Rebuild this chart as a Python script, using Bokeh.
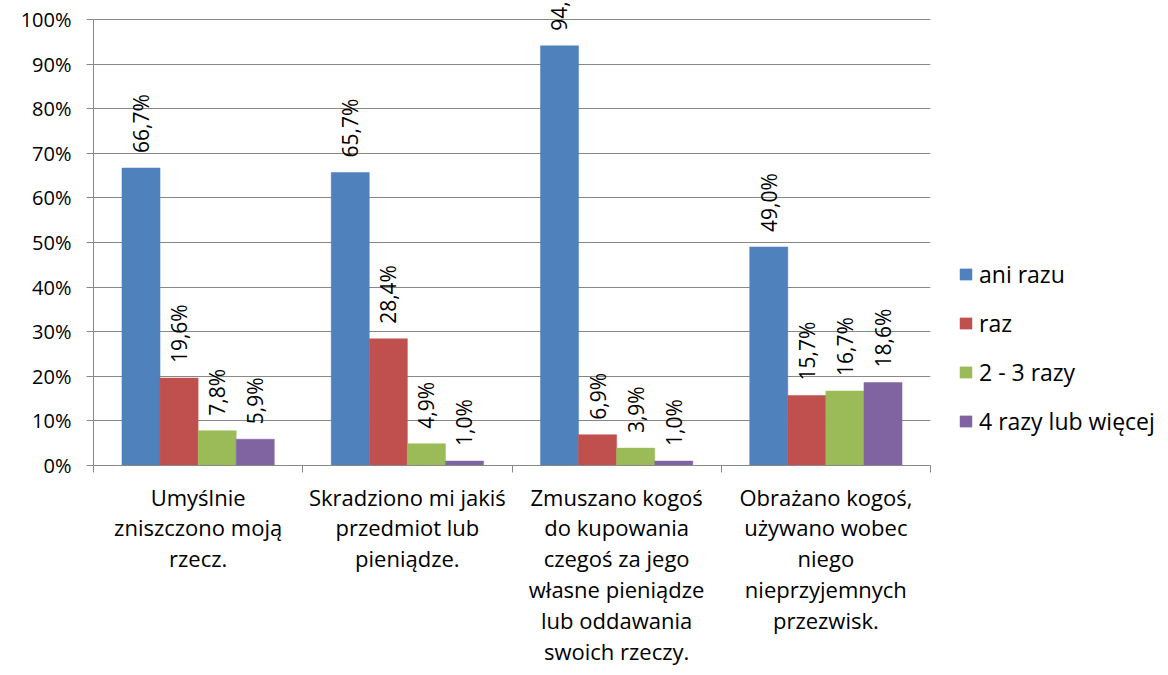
import numpy as np
from bokeh.plotting import figure
from bokeh.models import (ColumnDataSource, FixedTicker, LabelSet, Legend, LegendItem,
                          PrintfTickFormatter, Range1d)
from bokeh.core.properties import value
from bokeh.embed import file_html
from bokeh.resources import INLINE

categories = [
    "Umyślnie\nzniszczono moją\nrzecz.",
    "Skradziono mi jakiś\nprzedmiot lub\npieniądze.",
    "Zmuszano kogoś\ndo kupowania\nczegoś za jego\nwłasne pieniądze\nlub oddawania\nswoich rzeczy.",
    "Obrażano kogoś,\nużywano wobec\nniego\nnieprzyjemnych\nprzezwisk.",
]
series = ["ani razu", "raz", "2 - 3 razy", "4 razy lub więcej"]
ani_razu = [66.7, 65.7, 94.1, 49.0]
raz = [19.6, 28.4, 6.9, 15.7]
dwa_trzy = [7.8, 4.9, 3.9, 16.7]
cztery = [5.9, 1.0, 1.0, 18.6]
colors = ["#4F81BD", "#C0504D", "#9BBB59", "#8064A2"]

FONT = "Open Sans"

# frame: left 93, right 930, 100% at y=19, 0% at y=465
p = figure(frame_width=837, frame_height=465, output_backend="svg", toolbar_location=None,
           x_range=Range1d(0, 4), y_range=Range1d(0, 100 + 19 / 4.46),
           min_border_left=93, min_border_top=0, min_border_right=0,
           min_border_bottom=0)
p.outline_line_color = None
p.background_fill_color = "white"
p.border_fill_color = "white"

bw = 0.182
all_vals = [ani_razu, raz, dwa_trzy, cztery]
items = []
for k, (name, vals, col) in enumerate(zip(series, all_vals, colors)):
    xs = np.arange(len(categories)) + 0.5 + (k - 1.5) * bw
    src = ColumnDataSource(dict(
        x=xs, top=vals,
        lbl=[f"{v:.1f}".replace(".", ",") + "%" for v in vals]))
    r = p.vbar(x="x", top="top", width=bw, source=src, fill_color=col,
               line_color=col, line_width=0.5)
    items.append(LegendItem(label=name, renderers=[r]))
    ls = LabelSet(x="x", y="top", text="lbl", source=src, angle=np.pi / 2,
                  text_align="left", text_baseline="middle", y_offset=15,
                  text_font=value(FONT), text_font_size="21px", text_color="black")
    p.add_layout(ls)

legend = Legend(items=items, location=(28, 28), orientation="vertical",
                glyph_width=15, glyph_height=14, label_height=22, spacing=17,
                label_standoff=6, padding=0, margin=0,
                border_line_color=None, background_fill_alpha=0,
                label_text_font=FONT, label_text_font_size="23px",
                label_text_color="black")
p.add_layout(legend, "right")

# grid
p.xgrid.grid_line_color = None
p.ygrid.grid_line_color = "#888888"
p.ygrid.grid_line_width = 1
p.ygrid.ticker = FixedTicker(ticks=list(range(0, 101, 10)))

# y axis
yax = p.yaxis[0]
yax.ticker = FixedTicker(ticks=list(range(0, 101, 10)))
yax.bounds = (0, 100)
yax.formatter = PrintfTickFormatter(format="%d%%")
yax.axis_line_color = "#888888"
yax.major_tick_line_color = "#888888"
yax.major_tick_out = 7
yax.major_tick_in = 0
yax.minor_tick_line_color = None
yax.major_label_text_font = FONT
yax.major_label_text_font_size = "20px"
yax.major_label_text_color = "black"
yax.major_label_standoff = 15

# x axis
xax = p.xaxis[0]
xax.ticker = FixedTicker(ticks=[i + 0.5 for i in range(len(categories))],
                         minor_ticks=list(range(len(categories) + 1)))
xax.major_label_overrides = {i + 0.5: c for i, c in enumerate(categories)}
xax.axis_line_color = "#888888"
xax.major_tick_line_color = None
xax.major_tick_out = 0
xax.major_tick_in = 0
xax.minor_tick_line_color = "#888888"
xax.minor_tick_out = 7
xax.minor_tick_in = 0
xax.major_label_text_font = FONT
xax.major_label_text_font_size = "22px"
xax.major_label_text_color = "black"
xax.major_label_text_line_height = 1.03
xax.major_label_standoff = 9

open("out.html", "w").write(file_html(p, INLINE))
